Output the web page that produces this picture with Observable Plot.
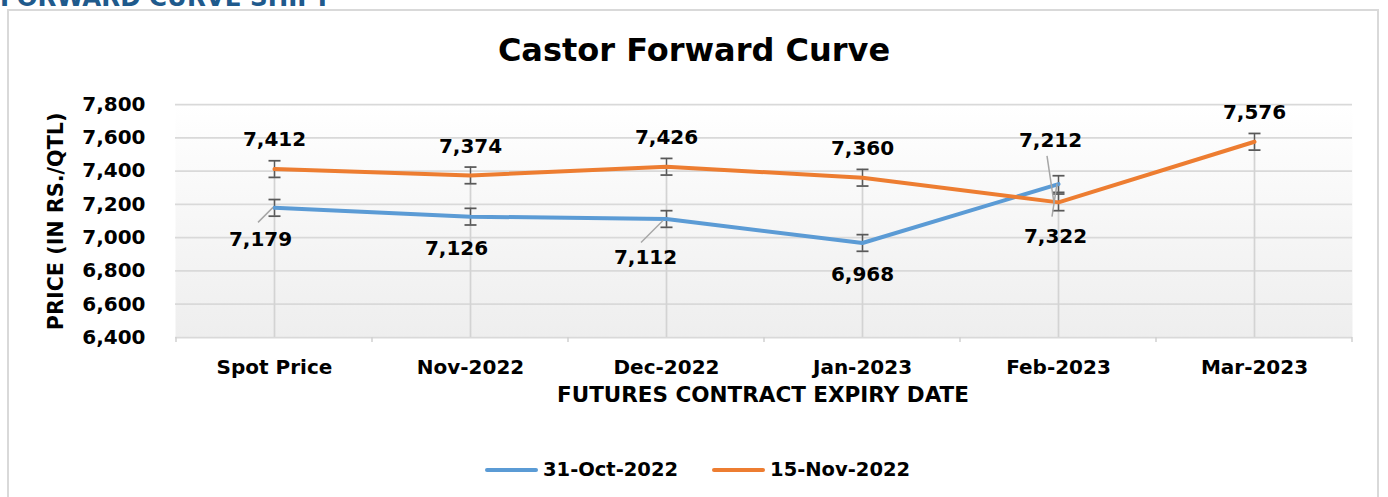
<!DOCTYPE html>
<html>
<head>
<meta charset="utf-8">
<script src="https://cdn.jsdelivr.net/npm/d3@7"></script>
<script src="https://cdn.jsdelivr.net/npm/@observablehq/plot@0.6"></script>
<style>
  html, body { margin: 0; padding: 0; background: #fff; }
  #wrap { position: relative; width: 1388px; height: 497px; overflow: hidden; font-family: "DejaVu Sans", sans-serif; font-weight: bold; color: #000; }
  #header { position: absolute; left: 0; top: -14px; font-size: 24.5px; line-height: 24.5px; color: #1F5A8C; white-space: nowrap; }
  #box { position: absolute; left: 7px; top: 9px; width: 1372px; height: 540px; border: 2px solid #d9d9d9; box-sizing: border-box; }
  #chart { position: absolute; left: 0; top: 0; }
  .t { position: absolute; white-space: nowrap; }
  #title { left: 0; width: 1388px; text-align: center; top: 34px; font-size: 32px; line-height: 32px; }
  #xtitle { left: 263px; width: 1000px; text-align: center; top: 384px; font-size: 21.5px; line-height: 21.5px; }
  #ytitle { left: -94px; width: 300px; text-align: center; top: 211px; font-size: 20.7px; line-height: 20.7px; transform: rotate(-90deg); transform-origin: 150px 10.35px; }
  #legend { left: 485px; top: 460px; font-size: 19.5px; line-height: 19.5px; display: flex; align-items: center; }
  .sw { display: inline-block; width: 53px; height: 4px; border-radius: 2px; margin-right: 5px; }
  .item { display: flex; align-items: center; margin-right: 34px; }
</style>
</head>
<body>
<div id="wrap">
  <div id="header">FORWARD CURVE SHIFT</div>
  <div id="box"></div>
  <div id="chart"></div>
  <div class="t" id="title">Castor Forward Curve</div>
  <div class="t" id="ytitle">PRICE (IN RS./QTL)</div>
  <div class="t" id="xtitle">FUTURES CONTRACT EXPIRY DATE</div>
  <div class="t" id="legend"></div>
</div>
<script>
// ---------- data ----------
const categories = ["Spot Price", "Nov-2022", "Dec-2022", "Jan-2023", "Feb-2023", "Mar-2023"];
const seriesNames = ["31-Oct-2022", "15-Nov-2022"];
const oct31Values = [7179, 7126, 7112, 6968, 7322];          // Spot .. Feb-2023
const nov15Values = [7412, 7374, 7426, 7360, 7212, 7576];    // Spot .. Mar-2023
const yTicks = [6400, 6600, 6800, 7000, 7200, 7400, 7600, 7800];
const errorAmount = 50;

// ---------- styling / layout config ----------
const colors = { "31-Oct-2022": "#5B9BD5", "15-Nov-2022": "#ED7D31" };
const labelOffsets = {
  "31-Oct-2022": { default: [0, 32], "Spot Price": [-14, 32], "Nov-2022": [-14, 32], "Dec-2022": [-21, 39], "Feb-2023": [-3, 53] },
  "15-Nov-2022": { default: [0, -29], "Feb-2023": [-8, -62] }
};
// leader lines: [series, category, startDx, startDy, endDx, endDy] in px relative to point
const leaders = [
  ["31-Oct-2022", "Spot Price", -16, 15, -1, 0],
  ["31-Oct-2022", "Dec-2022", -25, 24, -3, 2],
  ["15-Nov-2022", "Feb-2023", -11, -46, -4, 1],
  ["31-Oct-2022", "Feb-2023", -6, 33, -1, 0]
];

const rows = [];
oct31Values.forEach((v, i) => rows.push({ series: seriesNames[0], cat: categories[i], v }));
nov15Values.forEach((v, i) => rows.push({ series: seriesNames[1], cat: categories[i], v }));
const octRows = rows.filter(d => d.series === seriesNames[0]);
const novRows = rows.filter(d => d.series === seriesNames[1]);
const dropRows = categories.map(c => ({ cat: c, max: d3.max(rows.filter(d => d.cat === c), d => d.v) }));
const fmt = d3.format(",");

const capSymbol = { draw(ctx) { ctx.moveTo(-6, 0); ctx.lineTo(6, 0); } };

const labelMarks = rows.map(d => {
  const o = labelOffsets[d.series][d.cat] || labelOffsets[d.series].default;
  return Plot.text([d], { x: "cat", y: "v", text: r => fmt(r.v), dx: o[0], dy: o[1], fontSize: 20, fontWeight: "bold", fill: "#000" });
});

const leaderMark = (index, scales, values, dimensions) => {
  const g = d3.create("svg:g");
  // small category-axis ticks at band boundaries
  const step = scales.x(categories[1]) - scales.x(categories[0]);
  const bottom = dimensions.height - dimensions.marginBottom;
  categories.forEach((c, i) => {
    const b = scales.x(c) - step / 2;
    g.append("line").attr("x1", b).attr("x2", b).attr("y1", bottom).attr("y2", bottom + 5).attr("stroke", "#d0d0d0").attr("stroke-width", 1.5);
    if (i === categories.length - 1) {
      const e = scales.x(c) + step / 2;
      g.append("line").attr("x1", e).attr("x2", e).attr("y1", bottom).attr("y2", bottom + 5).attr("stroke", "#d0d0d0").attr("stroke-width", 1.5);
    }
  });
  leaders.forEach(([s, c, sx, sy, ex, ey]) => {
    const r = rows.find(d => d.series === s && d.cat === c);
    const px = scales.x(c), py = scales.y(r.v);
    g.append("line").attr("x1", px + sx).attr("y1", py + sy).attr("x2", px + ex).attr("y2", py + ey)
      .attr("stroke", "#a6a6a6").attr("stroke-width", 1.5);
  });
  return g.node();
};

const chart = Plot.plot({
  width: 1388,
  height: 497,
  marginLeft: 175,
  marginRight: 36,
  marginTop: 104,
  marginBottom: 160,
  style: { background: "transparent", fontFamily: "'DejaVu Sans', sans-serif", fontWeight: "bold", fontSize: "20px", color: "#000" },
  x: { type: "point", domain: categories, padding: 0.5, align: 0.5, tickSize: 0, tickPadding: 22, label: null, fontSize: 21 },
  y: { domain: [6400, 7800], ticks: yTicks, tickFormat: fmt, tickSize: 0, tickPadding: 30, label: null },
  marks: [
    Plot.frame({ fill: "url(#bgGrad)", stroke: "none" }),
    Plot.ruleY(yTicks, { stroke: "#d9d9d9", strokeWidth: 1.75, strokeOpacity: 1 }),
    Plot.ruleX(dropRows, { x: "cat", y1: 6400, y2: "max", stroke: "#d3d3d3", strokeWidth: 1.75 }),
    Plot.ruleX(rows, { x: "cat", y1: d => d.v - errorAmount, y2: d => d.v + errorAmount, stroke: "#595959", strokeWidth: 1.5 }),
    Plot.dot(rows, { x: "cat", y: d => d.v - errorAmount, symbol: capSymbol, fill: "none", stroke: "#595959", strokeWidth: 1.75 }),
    Plot.dot(rows, { x: "cat", y: d => d.v + errorAmount, symbol: capSymbol, fill: "none", stroke: "#595959", strokeWidth: 1.75 }),
    Plot.line(octRows, { x: "cat", y: "v", stroke: colors[seriesNames[0]], strokeWidth: 4, strokeLinejoin: "round", strokeLinecap: "round" }),
    Plot.line(novRows, { x: "cat", y: "v", stroke: colors[seriesNames[1]], strokeWidth: 4, strokeLinejoin: "round", strokeLinecap: "round" }),
    leaderMark,
    ...labelMarks
  ]
});

d3.select(chart).insert("defs", ":first-child").html(
  '<linearGradient id="bgGrad" x1="0" y1="0" x2="0" y2="1"><stop offset="0" stop-color="#ffffff"/><stop offset="1" stop-color="#eeeeee"/></linearGradient>'
);
document.getElementById("chart").appendChild(chart);

const legend = d3.select("#legend");
seriesNames.forEach(name => {
  const it = legend.append("div").attr("class", "item");
  it.append("span").attr("class", "sw").style("background", colors[name]);
  it.append("span").text(name);
});
</script>
</body>
</html>
